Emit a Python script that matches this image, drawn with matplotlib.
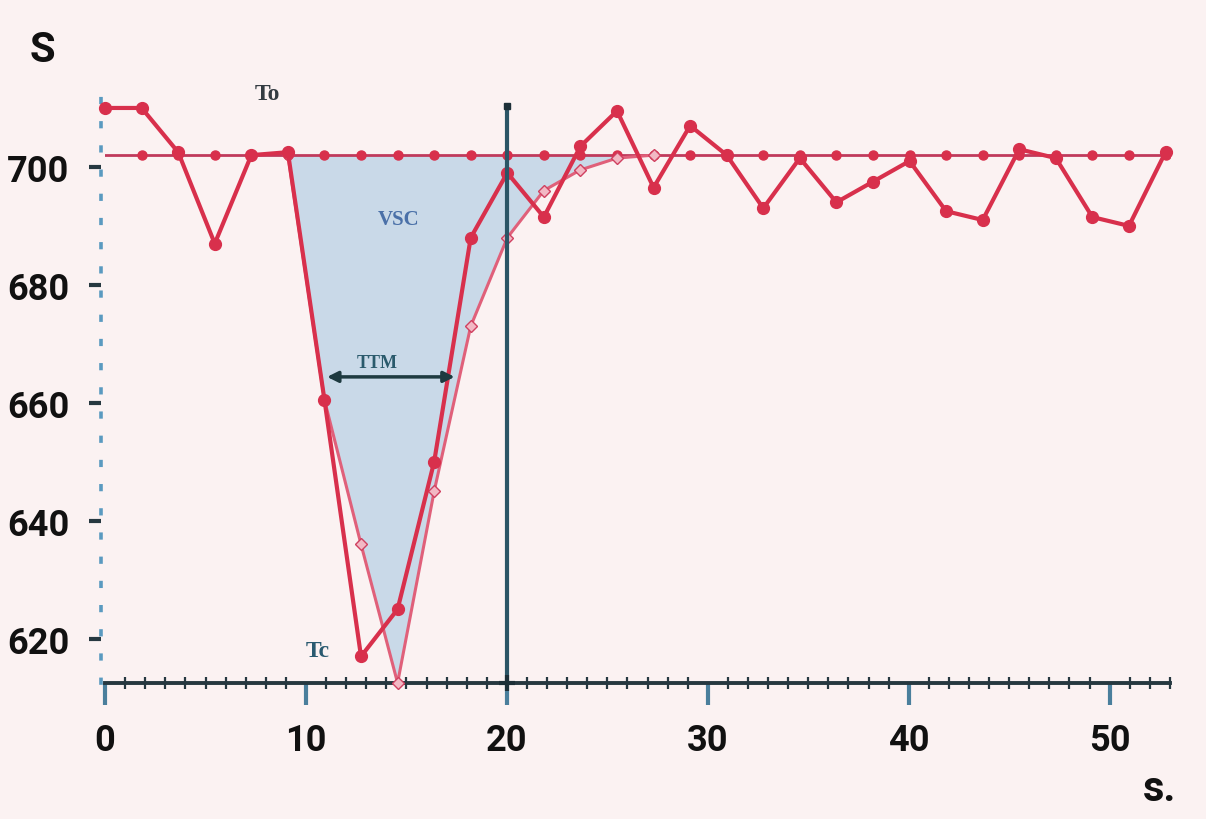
import matplotlib.pyplot as plt
from matplotlib.ticker import MultipleLocator

# serie medida (trazo grueso, marcadores rellenos)
t_medida = [0.0, 1.82, 3.64, 5.46, 7.28, 9.10, 10.92, 12.74, 14.56, 16.38,
            18.20, 20.02, 21.84, 23.66, 25.48, 27.30, 29.12, 30.94, 32.76, 34.58,
            36.40, 38.22, 40.04, 41.86, 43.68, 45.50, 47.32, 49.14, 50.96, 52.78]
s_medida = [710, 710, 702.5, 687, 702, 702.5, 660.5, 617, 625, 650,
            688, 699, 691.5, 703.5, 709.5, 696.5, 707, 702, 693, 701.5,
            694, 697.5, 701, 692.5, 691, 703, 701.5, 691.5, 690, 702.5]

# curva del modelo (trazo fino, marcadores claros)
t_modelo = [9.10, 10.92, 12.74, 14.56, 16.38, 18.20, 20.02, 21.84, 23.66, 25.48, 27.30]
s_modelo = [702, 660.5, 636, 612.5, 645, 673, 688, 696, 699.5, 701.5, 702]

# linea basal
t_base = [0.0, 1.82, 3.64, 5.46, 7.28, 9.10, 10.92, 12.74, 14.56, 16.38,
          18.20, 20.02, 21.84, 23.66, 25.48, 27.30, 29.12, 30.94, 32.76, 34.58,
          36.40, 38.22, 40.04, 41.86, 43.68, 45.50, 47.32, 49.14, 50.96, 52.78]
s_base = [702, 702, 702, 702, 702, 702, 702, 702, 702, 702,
          702, 702, 702, 702, 702, 702, 702, 702, 702, 702,
          702, 702, 702, 702, 702, 702, 702, 702, 702, 702]

x_ticks = [0, 10, 20, 30, 40, 50]
y_ticks = [620, 640, 660, 680, 700]

t_corte = 20          # linea vertical
ttm = (11.05, 17.4, 664.4)

fondo = "#fbf2f2"
rojo = "#d8304c"
teal = "#2b5566"
fuente = ["Roboto", "DejaVu Sans"]
serif = ["Liberation Serif", "DejaVu Serif"]

fig = plt.figure(figsize=(12.06, 8.2), dpi=100, facecolor=fondo)
ax = fig.add_axes([0.0871, 0.1659, 0.883, 0.7156], facecolor=fondo)

# area VSC
ax.fill_between(t_modelo, s_modelo, 702, color="#c9d9e8", zorder=1, linewidth=0)

# linea basal con puntos
ax.plot(t_base, s_base, color="#c03a5c", lw=2, zorder=2)
ax.plot(t_base[1:], s_base[1:], ls="none", marker="o", ms=6.5, color=rojo, zorder=2)

# modelo
ax.plot(t_modelo, s_modelo, color="#e0607a", lw=2.2, marker="D", ms=6,
        mfc="#f2b8c4", mec="#d04060", zorder=3, clip_on=False)

# medida
ax.plot(t_medida, s_medida, color=rojo, lw=3.0, marker="o", ms=8.5,
        mfc=rojo, mec=rojo, zorder=4, clip_on=False)

# linea vertical
ax.plot([t_corte, t_corte], [612.5, 710.3], color=teal, lw=3, zorder=5, clip_on=False)
ax.plot([t_corte], [710.3], marker="s", ms=5, color="#1d3038", zorder=6, clip_on=False)
ax.plot([t_corte], [612.5], marker="+", ms=12, mew=3, color="#1d3038", zorder=6, clip_on=False)

# flecha TTM
ax.annotate("", xy=(ttm[0], ttm[2]), xytext=(ttm[1], ttm[2]),
            arrowprops=dict(arrowstyle="<|-|>", color="#1e3a40", lw=2.5,
                            mutation_scale=16, shrinkA=0, shrinkB=0), zorder=6)
ax.text((ttm[0] + ttm[1]) / 2 - 0.7, ttm[2] + 1.0, "TTM", ha="center", va="bottom",
        fontsize=13, fontweight="bold", color="#2a5a6c", family=serif)
ax.text(14.6, 691.2, "VSC", ha="center", va="center", fontsize=15,
        fontweight="bold", color="#4a70a8", family=serif)
ax.text(8.1, 712.4, "To", ha="center", va="center", fontsize=17,
        fontweight="bold", color="#343c42", family=serif)
ax.text(10.6, 618, "Tc", ha="center", va="center", fontsize=17,
        fontweight="bold", color="#2a5a70", family=serif)

ax.set_xlim(0, 53)
ax.set_ylim(612.5, 712)

# ejes
for lado in ["top", "right"]:
    ax.spines[lado].set_visible(False)
ax.spines["bottom"].set_color("#263840")
ax.spines["bottom"].set_linewidth(2.8)
ax.spines["left"].set_color("#5a9ac0")
ax.spines["left"].set_linewidth(2.6)
ax.spines["left"].set_linestyle((0, (1, 5.7)))
ax.spines["left"].set_position(("data", -0.2))

ax.set_xticks(x_ticks)
ax.set_yticks(y_ticks)
ax.xaxis.set_minor_locator(MultipleLocator(1))
ax.tick_params(axis="x", which="major", direction="out", length=16, width=3,
               color="#4a7f9c", pad=12, labelsize=26)
ax.tick_params(axis="x", which="minor", direction="inout", length=8, width=1.6,
               color="#263840")
ax.tick_params(axis="y", which="major", direction="out", length=9, width=3,
               color="#263840", pad=14, labelsize=26)
for lab in ax.get_xticklabels() + ax.get_yticklabels():
    lab.set_fontweight("bold")
    lab.set_family(fuente)
    lab.set_color("#111111")

fig.text(42 / 1206, 1 - 50 / 820, "S", ha="center", va="center", fontsize=30,
         fontweight="bold", family=fuente, color="#111111")
fig.text(1160 / 1206, 1 - 790 / 820, "s.", ha="center", va="center", fontsize=30,
         fontweight="bold", family=fuente, color="#111111")

fig.savefig("out.png", dpi=100, facecolor=fondo)
